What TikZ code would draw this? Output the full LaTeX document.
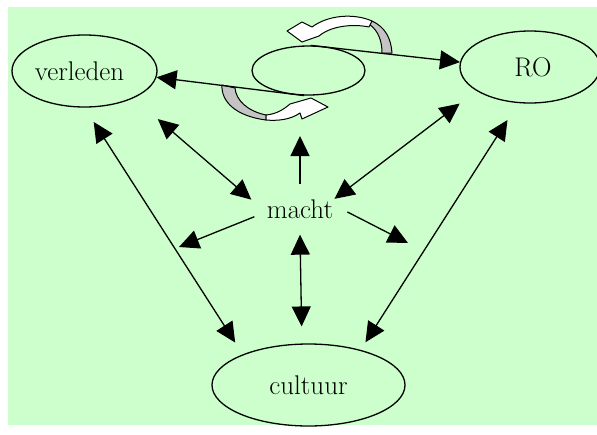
\documentclass[tikz,border=0pt]{standalone}
\usetikzlibrary{shapes.geometric,arrows.meta}
\definecolor{paleGreen}{RGB}{204,255,204}
\definecolor{sideGray}{RGB}{196,196,196}
\tikzset{
	topic/.style={draw, ellipse, line width=1.3pt, inner sep=0pt, font=\fontsize{27}{32}\selectfont},
	link/.style={line width=1.3pt, -{Triangle[length=20pt,width=19pt]}},
	twoway/.style={line width=1.3pt, {Triangle[length=20pt,width=19pt]}-{Triangle[length=20pt,width=19pt]}},
	turn/.style={line width=1pt, line join=round}
}
\begin{document}
\begin{tikzpicture}[x=1pt, y=-1pt]
	% canvas
	\useasboundingbox (0,0) rectangle (597,434);
	\fill[paleGreen] (8,7) rectangle (597,425);
	% rotation arrows round the middle
	\filldraw[turn, fill=sideGray] (369,24) .. controls (379,31) and (382,42) .. (382,53) -- (392,53) .. controls (391,38) and (385,27) .. (372,21) -- cycle;
	\filldraw[turn, fill=white] (287,31) -- (302,22) -- (312,27) .. controls (328,15) and (354,13) .. (372,21) -- (369,27) .. controls (355,24) and (332,25) .. (319,36) -- (302,42) -- cycle;
	\filldraw[turn, fill=sideGray] (222,85) .. controls (221,101) and (235,116) .. (266,120) -- (266,115) .. controls (247,111) and (236,100) .. (235,88) -- cycle;
	\filldraw[turn, fill=white] (266,115) .. controls (277,114) and (284,109) .. (290,104) -- (311,98) -- (328,107) -- (302,119) -- (300,113) .. controls (290,120) and (277,121) .. (266,120) -- cycle;
	% topics
	\node[topic, minimum width=145pt, minimum height=72pt] (verleden) at (84.5,71) {verleden\hspace*{10pt}};
	\node[topic, minimum width=113pt, minimum height=49pt] (mid) at (308.5,70.5) {};
	\node[topic, minimum width=140pt, minimum height=72pt] (RO) at (530,67) {\hspace*{6pt}RO};
	\node[topic, minimum width=193pt, minimum height=82pt] (cultuur) at (308.5,385) {cultuur};
	\node[topic, draw=none, minimum width=94pt, minimum height=49pt] (macht) at (300,209.5) {macht};
	% free ends
	\coordinate (upEnd) at (300,136);
	\coordinate (leftEnd) at (179,247);
	\coordinate (rightEnd) at (408,243);
	% round the middle
	\draw[link] (mid.85) -- (RO.176);
	\draw[link] (mid.-100) -- (verleden.-5);
	% both ways
	\foreach \from/\to/\sa/\sb in {verleden.-29/macht.171/32/4, RO.204/macht.20/21/-6, verleden.-90/cultuur.155/17/14, RO.252/cultuur.34/20/9, macht.-90/cultuur.99/0/17}
	{
		\draw[twoway, shorten <=\sa pt, shorten >=\sb pt] (\from) -- (\to);
	}
	% out of macht
	\foreach \from/\to in {macht.90/upEnd, macht.189/leftEnd, macht.-3/rightEnd}
	{
		\draw[link] (\from) -- (\to);
	}
\end{tikzpicture}
\end{document}
